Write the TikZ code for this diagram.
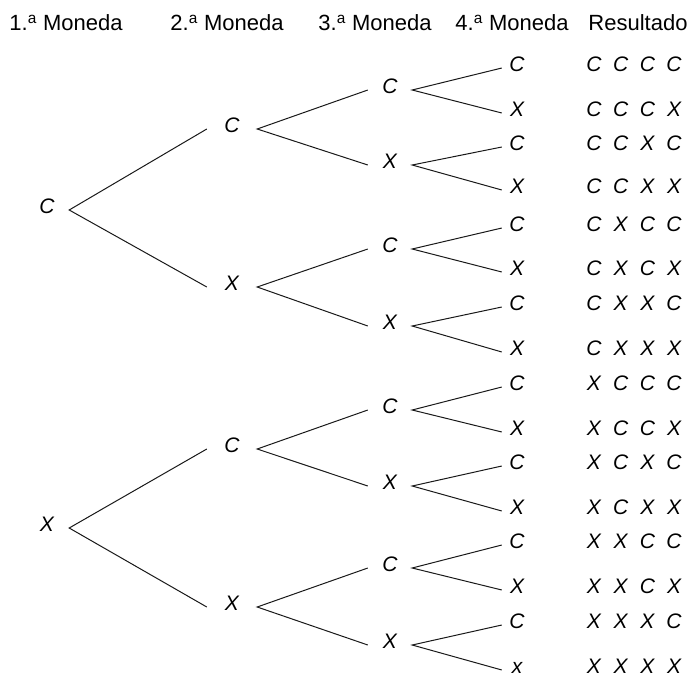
\documentclass[tikz,border=0pt]{standalone}
\usepackage{fontspec}
\setmainfont{Liberation Sans}
\newcommand{\rowres}[4]{\makebox[26.7pt]{#1}\makebox[26.7pt]{#2}\makebox[26.7pt]{#3}\makebox[26.7pt]{#4}}
\tikzset{
  head/.style={font=\fontsize{22}{26}\selectfont, inner sep=0pt},
  coin/.style={font=\fontsize{21}{25}\selectfont\itshape, inner sep=0pt,
    text height=0.72em, text depth=0pt, minimum width=44pt},
  coinwide/.style={coin, minimum width=50pt},
  leaf/.style={coin, minimum width=30pt},
  result/.style={font=\fontsize{21}{25}\selectfont\itshape, inner sep=0pt,
    text height=0.72em, text depth=0pt},
  branch/.style={line width=1pt, black!90}
}
\begin{document}
\begin{tikzpicture}[x=1pt,y=-1pt]
\useasboundingbox (0,0) rectangle (689,681);
% encabezados
\node (h1) [head] at (66,23) {1.\textsuperscript{a} Moneda};
\node (h2) [head] at (227,23) {2.\textsuperscript{a} Moneda};
\node (h3) [head] at (375,23) {3.\textsuperscript{a} Moneda};
\node (h4) [head] at (512,23) {4.\textsuperscript{a} Moneda};
\node (hr) [head] at (638,23) {Resultado};
% primera moneda
\node (C) [coin] at (47,210) {C};
\node (X) [coin] at (47,528) {X};
% segunda moneda
\node (CC) [coinwide] at (232,129) {C};
\node (CX) [coinwide] at (232,287) {X};
\node (XC) [coinwide] at (232,449) {C};
\node (XX) [coinwide] at (232,607) {X};
% tercera moneda
\node (CCC) [coin] at (390,90) {C};
\node (CCX) [coin] at (390,165) {X};
\node (CXC) [coin] at (390,249) {C};
\node (CXX) [coin] at (390,326) {X};
\node (XCC) [coin] at (390,410) {C};
\node (XCX) [coin] at (390,486) {X};
\node (XXC) [coin] at (390,568) {C};
\node (XXX) [coin] at (390,645) {X};
% cuarta moneda
\node (CCCC) [leaf] at (517,68) {C};
\node (CCCX) [leaf] at (517,113) {X};
\node (CCXC) [leaf] at (517,147) {C};
\node (CCXX) [leaf] at (517,190) {X};
\node (CXCC) [leaf] at (517,228) {C};
\node (CXCX) [leaf] at (517,272) {X};
\node (CXXC) [leaf] at (517,307) {C};
\node (CXXX) [leaf] at (517,352) {X};
\node (XCCC) [leaf] at (517,387) {C};
\node (XCCX) [leaf] at (517,432) {X};
\node (XCXC) [leaf] at (517,466) {C};
\node (XCXX) [leaf] at (517,511) {X};
\node (XXCC) [leaf] at (517,545) {C};
\node (XXCX) [leaf] at (517,590) {X};
\node (XXXC) [leaf] at (517,625) {C};
\node (XXXX) [leaf] at (517,670) {x};
% ramas
\draw [branch] (CC.west) -- (C.east) -- (CX.west);
\draw [branch] (XC.west) -- (X.east) -- (XX.west);
\draw [branch] (CCC.west) -- (CC.east) -- (CCX.west);
\draw [branch] (CXC.west) -- (CX.east) -- (CXX.west);
\draw [branch] (XCC.west) -- (XC.east) -- (XCX.west);
\draw [branch] (XXC.west) -- (XX.east) -- (XXX.west);
\draw [branch] (CCCC.west) -- (CCC.east) -- (CCCX.west);
\draw [branch] (CCXC.west) -- (CCX.east) -- (CCXX.west);
\draw [branch] (CXCC.west) -- (CXC.east) -- (CXCX.west);
\draw [branch] (CXXC.west) -- (CXX.east) -- (CXXX.west);
\draw [branch] (XCCC.west) -- (XCC.east) -- (XCCX.west);
\draw [branch] (XCXC.west) -- (XCX.east) -- (XCXX.west);
\draw [branch] (XXCC.west) -- (XXC.east) -- (XXCX.west);
\draw [branch] (XXXC.west) -- (XXX.east) -- (XXXX.west);
% resultados
\node (r1) [result] at (634,68) {\rowres CCCC};
\node (r2) [result] at (634,113) {\rowres CCCX};
\node (r3) [result] at (634,147) {\rowres CCXC};
\node (r4) [result] at (634,190) {\rowres CCXX};
\node (r5) [result] at (634,228) {\rowres CXCC};
\node (r6) [result] at (634,272) {\rowres CXCX};
\node (r7) [result] at (634,307) {\rowres CXXC};
\node (r8) [result] at (634,352) {\rowres CXXX};
\node (r9) [result] at (634,387) {\rowres XCCC};
\node (r10) [result] at (634,432) {\rowres XCCX};
\node (r11) [result] at (634,466) {\rowres XCXC};
\node (r12) [result] at (634,511) {\rowres XCXX};
\node (r13) [result] at (634,545) {\rowres XXCC};
\node (r14) [result] at (634,590) {\rowres XXCX};
\node (r15) [result] at (634,625) {\rowres XXXC};
\node (r16) [result] at (634,670) {\rowres XXXX};
\end{tikzpicture}
\end{document}
